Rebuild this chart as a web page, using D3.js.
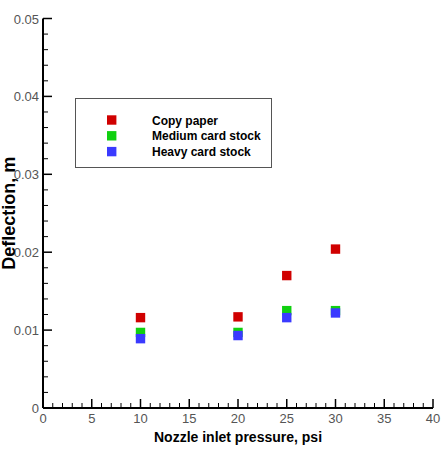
<!DOCTYPE html>
<html>
<head>
<meta charset="utf-8">
<script src="https://cdn.jsdelivr.net/npm/d3@7"></script>
<style>
  body { margin: 0; background: #fff; }
  text { font-family: Arial, "Liberation Sans", sans-serif; }
</style>
</head>
<body>
<div id="chart"></div>
<script>
// pressure (psi) for each point
var pressure = [10, 20, 25, 30];
// deflection (m) per paper type
var copyPaper = [0.0116, 0.0117, 0.0170, 0.0204];
var mediumCard = [0.0097, 0.0097, 0.0125, 0.0125];
var heavyCard = [0.0089, 0.0093, 0.0116, 0.0122];
var seriesNames = ["Copy paper", "Medium card stock", "Heavy card stock"];
var seriesColors = ["#d00000", "#10d010", "#3a3aff"];

var xTicks = [0, 5, 10, 15, 20, 25, 30, 35, 40];
var yTicks = [0, 0.01, 0.02, 0.03, 0.04, 0.05];

var width = 448, height = 452;

var svg = d3.select("#chart").append("svg")
    .attr("width", width)
    .attr("height", height);

var x = d3.scaleLinear().domain([0, 40]).range([43, 433]);
var y = d3.scaleLinear().domain([0, 0.05]).range([408, 18.5]);

// minor ticks
svg.append("g")
    .selectAll("line")
    .data(d3.range(0, 41, 1).filter(function(v) { return v % 5 != 0; }))
    .enter().append("line")
    .attr("x1", function(d) { return x(d); })
    .attr("x2", function(d) { return x(d); })
    .attr("y1", y(0)).attr("y2", y(0) - 5)
    .attr("stroke", "#000").attr("stroke-width", 1);

svg.append("g")
    .selectAll("line")
    .data(d3.range(0, 26, 1).filter(function(v) { return v % 5 != 0; }))
    .enter().append("line")
    .attr("x1", x(0)).attr("x2", x(0) + 5)
    .attr("y1", function(d) { return y(d * 0.002); })
    .attr("y2", function(d) { return y(d * 0.002); })
    .attr("stroke", "#000").attr("stroke-width", 1);

// major ticks
svg.append("g")
    .selectAll("line")
    .data(xTicks)
    .enter().append("line")
    .attr("x1", function(d) { return x(d); })
    .attr("x2", function(d) { return x(d); })
    .attr("y1", y(0)).attr("y2", y(0) - 9)
    .attr("stroke", "#000").attr("stroke-width", 1.5);

svg.append("g")
    .selectAll("line")
    .data(yTicks)
    .enter().append("line")
    .attr("x1", x(0)).attr("x2", x(0) + 9)
    .attr("y1", function(d) { return y(d); })
    .attr("y2", function(d) { return y(d); })
    .attr("stroke", "#000").attr("stroke-width", 1.5);

// axis lines
svg.append("line")
    .attr("x1", x(0)).attr("x2", x(40))
    .attr("y1", y(0)).attr("y2", y(0))
    .attr("stroke", "#000").attr("stroke-width", 2);
svg.append("line")
    .attr("x1", x(0)).attr("x2", x(0))
    .attr("y1", y(0)).attr("y2", y(0.05))
    .attr("stroke", "#000").attr("stroke-width", 2);

// tick labels
svg.append("g")
    .selectAll("text")
    .data(xTicks)
    .enter().append("text")
    .attr("x", function(d) { return x(d); })
    .attr("y", 423)
    .attr("text-anchor", "middle")
    .attr("font-size", "13px")
    .attr("fill", "#555")
    .text(function(d) { return d; });

svg.append("g")
    .selectAll("text")
    .data(yTicks)
    .enter().append("text")
    .attr("x", 39)
    .attr("y", function(d) { return y(d) + 5; })
    .attr("text-anchor", "end")
    .attr("font-size", "13px")
    .attr("fill", "#555")
    .text(function(d) { return d == 0 ? "0" : d.toFixed(2); });

// axis titles
svg.append("text")
    .attr("x", (x(0) + x(40)) / 2)
    .attr("y", 442)
    .attr("text-anchor", "middle")
    .attr("font-size", "14px")
    .attr("font-weight", "bold")
    .text("Nozzle inlet pressure, psi");

svg.append("text")
    .attr("transform", "translate(15," + (y(0) + y(0.05)) / 2 + ") rotate(-90)")
    .attr("text-anchor", "middle")
    .attr("font-size", "18px")
    .attr("font-weight", "bold")
    .text("Deflection, m");

// points
var allSeries = [copyPaper, mediumCard, heavyCard];
allSeries.forEach(function(vals, i) {
    svg.append("g")
        .selectAll("rect")
        .data(vals)
        .enter().append("rect")
        .attr("x", function(d, j) { return x(pressure[j]) - 4.7; })
        .attr("y", function(d) { return y(d) - 4.7; })
        .attr("width", 9.4)
        .attr("height", 9.4)
        .attr("fill", seriesColors[i]);
});

// legend
var legend = svg.append("g");
legend.append("rect")
    .attr("x", 75.5).attr("y", 98.5)
    .attr("width", 196).attr("height", 69)
    .attr("fill", "#fff")
    .attr("stroke", "#555").attr("stroke-width", 1);

seriesNames.forEach(function(name, i) {
    legend.append("rect")
        .attr("x", 107).attr("y", 115.3 + i * 15.8)
        .attr("width", 9.4).attr("height", 9.4)
        .attr("fill", seriesColors[i]);
    legend.append("text")
        .attr("x", 152)
        .attr("y", 124.5 + i * 15.8)
        .attr("font-size", "12px")
        .attr("font-weight", "bold")
        .text(name);
});
</script>
</body>
</html>
